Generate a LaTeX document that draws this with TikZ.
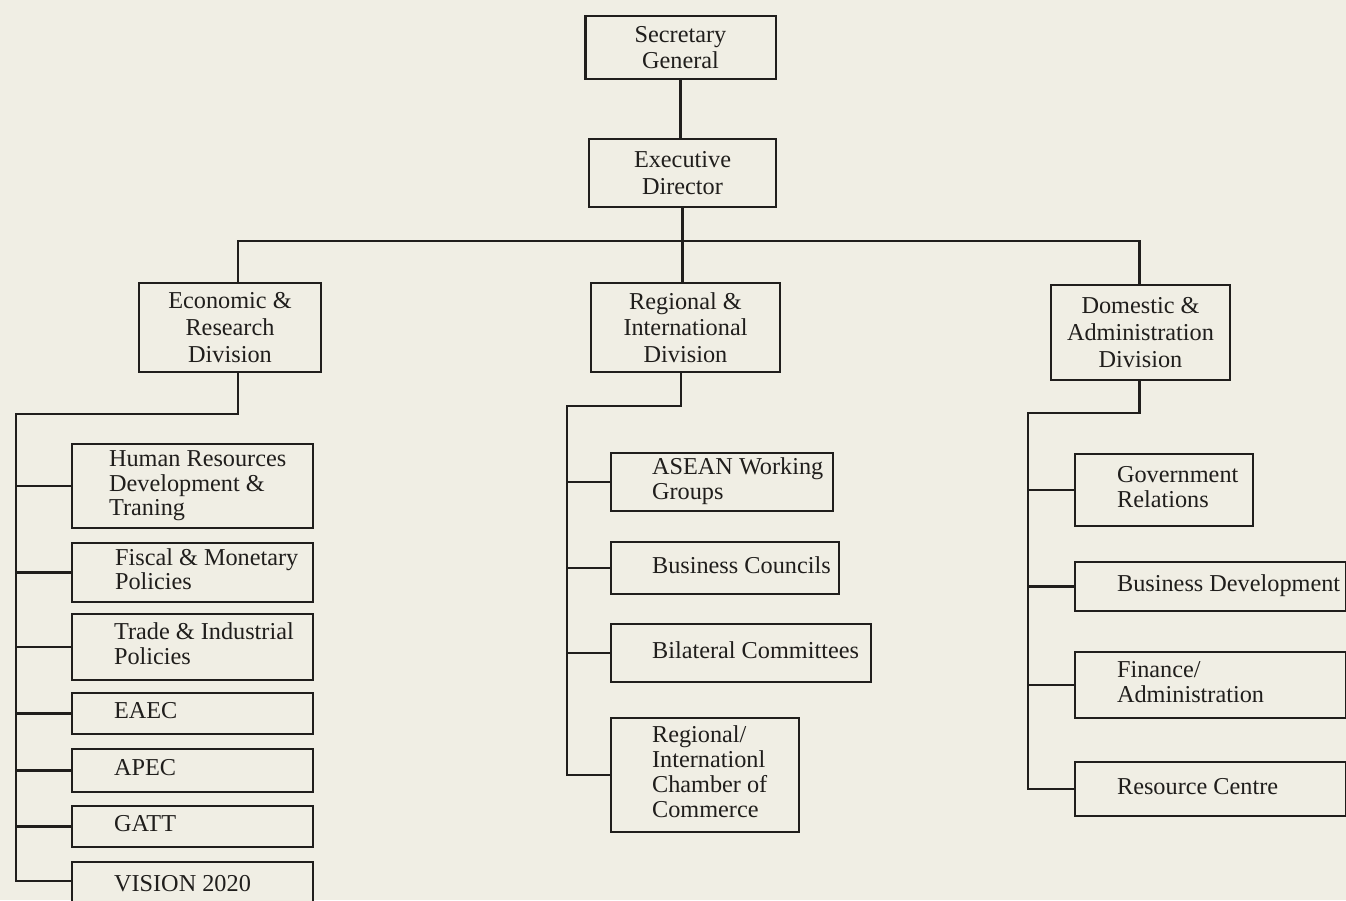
\documentclass[tikz,border=0pt]{standalone}
\usepackage{fontspec}
\setmainfont{Liberation Serif}
\usepackage{xcolor}
\usepackage{tikz}
\usetikzlibrary{calc}
\definecolor{paper}{RGB}{240,238,228}
\definecolor{ink}{RGB}{32,30,28}
\def\unitfont{\fontsize{6.9}{7.1}\selectfont}
\def\headfont{\fontsize{6.9}{7.6}\selectfont}
\def\unitlbl#1#2#3{\makebox[#1][l]{\hspace{#2}\begin{tabular}{@{}l@{}}#3\end{tabular}}}
\tikzset{
	head/.style={draw=ink, fill=paper, text=ink, align=center, inner sep=0pt, line width=0.6pt, font=\headfont},
	unit/.style={draw=ink, fill=paper, text=ink, anchor=west, inner sep=0pt, line width=0.6pt, font=\unitfont},
	link/.style={draw=ink, line width=0.6pt}
}

\begin{document}
\begin{tikzpicture}[x=0.01cm,y=-0.01cm]
				\fill[paper] (0,0) rectangle (1346,900);
				\useasboundingbox (0,0) rectangle (1346,900);
				\node[head, minimum width=1.90cm, minimum height=0.63cm] (sg) at (680.5,47.5) {Secretary\\General};
				\node[head, minimum width=1.87cm, minimum height=0.68cm] (ed) at (682.5,173) {Executive\\Director};
				\node[head, minimum width=1.82cm, minimum height=0.89cm] (econ) at (230,327.5) {Economic \&\\Research\\Division};
				\node[head, minimum width=1.89cm, minimum height=0.89cm] (reg) at (685.5,327.5) {Regional \&\\International\\Division};
				\node[head, minimum width=1.79cm, minimum height=0.95cm] (dom) at (1140.5,332.5) {Domestic \&\\Administration\\Division};
				\node[unit, minimum height=0.84cm] (hrd) at (71,486) {\unitlbl{2.41cm}{0.37cm}{Human Resources\\Development \&\\Traning}};
				\node[unit, minimum height=0.59cm] (fis) at (71,572.5) {\unitlbl{2.41cm}{0.43cm}{Fiscal \& Monetary\\Policies}};
				\node[unit, minimum height=0.66cm] (trd) at (71,647) {\unitlbl{2.41cm}{0.42cm}{Trade \& Industrial\\Policies}};
				\node[unit, minimum height=0.41cm] (eaec) at (71,713.5) {\unitlbl{2.41cm}{0.42cm}{EAEC}};
				\node[unit, minimum height=0.43cm] (apec) at (71,770.5) {\unitlbl{2.41cm}{0.42cm}{APEC}};
				\node[unit, minimum height=0.41cm] (gatt) at (71,826.5) {\unitlbl{2.41cm}{0.42cm}{GATT}};
				\node[unit, minimum height=0.48cm] (vis) at (71,886) {\unitlbl{2.41cm}{0.42cm}{VISION 2020}};
				\node[unit, minimum height=0.58cm] (asean) at (610,482) {\unitlbl{2.22cm}{0.41cm}{ASEAN Working\\Groups}};
				\node[unit, minimum height=0.52cm] (bc) at (610,568) {\unitlbl{2.28cm}{0.41cm}{Business Councils}};
				\node[unit, minimum height=0.58cm] (bil) at (610,653) {\unitlbl{2.60cm}{0.41cm}{Bilateral Committees}};
				\node[unit, minimum height=1.14cm] (rcc) at (610,775) {\unitlbl{1.88cm}{0.41cm}{Regional/\\Internationl\\Chamber of\\Commerce}};
				\node[unit, minimum height=0.72cm] (gov) at (1074,490) {\unitlbl{1.78cm}{0.42cm}{Government\\Relations}};
				\node[unit, minimum height=0.49cm] (bd) at (1074,586.5) {\unitlbl{2.71cm}{0.42cm}{Business Development}};
				\node[unit, minimum height=0.66cm] (fin) at (1074,685) {\unitlbl{2.71cm}{0.42cm}{Finance/\\Administration}};
				\node[unit, minimum height=0.54cm] (res) at (1074,789) {\unitlbl{2.71cm}{0.42cm}{Resource Centre}};
				\coordinate (bus) at (681,241);
				\coordinate (etrunk) at (16,414);
				\coordinate (rtrunk) at (567,406);
				\coordinate (dtrunk) at (1028,413);
				\draw[link] (sg.south) -- (sg.south |- ed.north);
				\draw[link] (ed.south) -- (ed.south |- reg.north);
				\draw[link] ([xshift=0.08cm]econ.north) |- (bus) -| ([xshift=-0.01cm]dom.north);
				\draw[link] ([xshift=0.08cm]econ.south) |- (etrunk) |- ([yshift=0.05cm]vis.west);
				\foreach \u in {hrd,fis,trd,eaec,apec,gatt}
					\draw[link] (\u.west) -- (\u.west -| etrunk);
				\draw[link] ([xshift=-0.045cm]reg.south) |- (rtrunk) |- (rcc.west);
				\foreach \u in {asean,bc,bil}
					\draw[link] (\u.west) -- (\u.west -| rtrunk);
				\draw[link] ([xshift=-0.01cm]dom.south) |- (dtrunk) |- (res.west);
				\foreach \u in {gov,bd,fin}
					\draw[link] (\u.west) -- (\u.west -| dtrunk);
\end{tikzpicture}
\end{document}
